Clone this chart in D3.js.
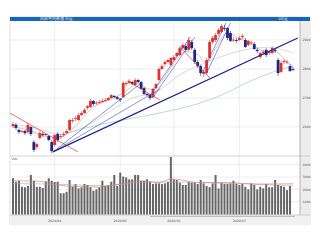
<!DOCTYPE html>
<html><head><meta charset="utf-8">
<script src="https://cdn.jsdelivr.net/npm/d3@7"></script>
<style>html,body{margin:0;padding:0;background:#fff;}svg{display:block;}</style>
</head><body>
<script>
// ---- data ----
const ohlc = [
[2603,2617,2597,2610],[2607,2614,2590,2597],[2590,2593,2576,2583],[2583,2590,2579,2586],[2586,2590,2572,2579],
[2583,2614,2576,2607],[2600,2603,2569,2576],[2548,2555,2514,2521],[2531,2545,2524,2541],[2562,2586,2559,2579],
[2576,2583,2566,2572],[2572,2579,2569,2576],[2569,2572,2552,2555],[2548,2555,2510,2517],[2538,2576,2531,2572],
[2576,2583,2548,2555],[2566,2576,2559,2569],[2572,2583,2566,2576],[2579,2593,2576,2586],[2590,2628,2586,2624],
[2621,2631,2614,2624],[2628,2638,2621,2631],[2624,2648,2621,2641],[2641,2655,2638,2648],[2648,2666,2645,2659],
[2666,2676,2659,2672],[2669,2697,2666,2690],[2690,2693,2672,2679],[2683,2690,2676,2684],[2683,2693,2679,2686],
[2686,2697,2683,2690],[2690,2700,2686,2693],[2693,2703,2690,2700],[2700,2714,2697,2710],[2707,2710,2700,2703],
[2703,2707,2693,2697],[2697,2700,2686,2693],[2703,2759,2700,2752],[2748,2755,2741,2752],[2752,2766,2748,2759],
[2755,2759,2745,2748],[2745,2769,2741,2762],[2762,2766,2752,2755],[2755,2759,2728,2731],[2734,2738,2710,2714],
[2714,2717,2707,2710],[2710,2714,2693,2700],[2703,2734,2700,2731],[2734,2752,2731,2748],[2762,2807,2759,2800],
[2800,2817,2797,2810],[2817,2831,2810,2824],[2824,2834,2821,2831],[2814,2841,2810,2838],[2831,2848,2828,2841],
[2845,2859,2841,2855],[2848,2879,2845,2872],[2872,2890,2869,2883],[2879,2886,2859,2866],[2866,2910,2862,2900],
[2893,2900,2866,2872],[2866,2872,2817,2824],[2824,2831,2803,2810],[2810,2814,2776,2786],[2783,2797,2772,2790],
[2786,2838,2779,2831],[2838,2900,2834,2893],[2893,2914,2886,2907],[2900,2924,2893,2917],[2921,2941,2914,2935],
[2928,2955,2924,2948],[2941,2952,2931,2938],[2941,2945,2900,2907],[2924,2931,2893,2897],[2900,2910,2893,2901],
[2900,2907,2890,2897],[2900,2914,2897,2907],[2910,2921,2903,2914],[2900,2907,2872,2876],[2883,2900,2879,2897],
[2890,2897,2883,2891],[2886,2893,2866,2869],[2866,2872,2855,2862],[2841,2859,2834,2855],[2855,2866,2848,2859],
[2866,2872,2841,2848],[2855,2862,2848,2859],[2855,2879,2852,2872],[2866,2872,2855,2862],[2831,2838,2776,2786],
[2790,2828,2786,2821],[2824,2834,2817,2828],[2824,2831,2817,2825],[2810,2817,2790,2793],[2800,2807,2793,2797]
];
const volume = [2900,2620,2700,2220,2180,2280,3160,2700,2220,2220,2120,2650,2900,2700,2600,2620,1700,1700,1820,2760,
2220,2440,2090,2180,2440,2360,2180,1900,2010,2180,2700,2280,2360,2620,3160,2280,3350,3030,2970,2810,
2810,3160,3160,2700,2700,2810,2620,2440,2490,
2490,2440,2490,2620,4600,2810,2760,2540,2360,2360,2620,2540,2540,2440,2760,2490,2280,2180,2490,3160,
2090,2540,2440,2440,2490,2700,2440,2360,2440,2220,2010,2490,2360,2010,2220,2090,2440,2180,2180,2760,
2360,2280,2220,1950,2280];
const priceTicks = [2900, 2800, 2700, 2600];
const priceTickLabels = ["2900", "2800", "2700", "2600"];
const volTicks = [4000, 3000, 2000, 1000];
const volTickLabels = ["4000", "3000", "2000", "1000"];
const dateTickIdx = [14, 36, 54, 76];
const dateTickLabels = ["2020/04", "2020/05", "2020/06", "2020/07"];
// moving averages: [index, value]
const maShort = [[0,2600],[5,2590],[10,2570],[14,2560],[18,2575],[22,2615],[26,2660],[30,2685],[34,2700],[38,2725],[42,2750],[46,2730],[50,2760],[54,2820],[58,2860],[62,2850],[65,2820],[68,2870],[72,2925],[76,2905],[80,2890],[84,2862],[88,2860],[92,2825],[94,2810]];
const maMid = [[0,2610],[8,2595],[16,2575],[24,2600],[32,2650],[40,2700],[48,2720],[56,2780],[64,2820],[72,2850],[80,2870],[86,2875],[90,2868],[94,2855]];
const maLong = [[18,2580],[30,2610],[50,2650],[62,2680],[70,2710],[80,2760],[88,2792],[94,2810]];
const volMaA = [[0,2700],[9,2650],[19,2250],[29,2200],[36,2450],[42,2700],[49,2550],[53,2850],[57,2750],[62,2560],[72,2560],[82,2400],[94,2350]];
const volMaB = [[0,2480],[15,2420],[30,2300],[45,2600],[55,2600],[70,2500],[85,2450],[94,2480]];
// trend lines: [i1, p1, i2, p2]
const blueThick = [[13.4,2514,95.6,2907]];
const blueThin = [[13.4,2514,43.5,2755],[13.4,2514,49.3,2731],[45.5,2700,59.5,2910],[46.8,2700,61,2910],[63.5,2786,71.5,2959],[65,2786,73,2959]];
const redLines = [[-1,2648,21.8,2514],[38.5,2759,49.3,2693],[56,2876,66.4,2766]];

// ---- layout ----
const W = 320, H = 242;
const L = 10, R = 310, axisL = 300;
const svg = d3.select("body").append("svg").attr("width", W).attr("height", H);
const x = d3.scaleLinear().domain([0, 94]).range([13, 293]);
const y = d3.scaleLinear().domain([2500, 2965.5]).range([156, 21]);
const yv = d3.scaleLinear().domain([0, 4680]).range([214.5, 156]);

// frame backgrounds
svg.append("rect").attr("x", L).attr("y", 17).attr("width", R - L).attr("height", 207).attr("fill", "#fff").attr("stroke", "#c8c8c8").attr("stroke-width", 0.6);
svg.append("rect").attr("x", axisL).attr("y", 21).attr("width", R - axisL).attr("height", 194).attr("fill", "#ececec");
svg.append("rect").attr("x", L).attr("y", 215).attr("width", R - L).attr("height", 9).attr("fill", "#f1f1f1");
svg.append("rect").attr("x", L).attr("y", 17).attr("width", R - L).attr("height", 4).attr("fill", "#1464c0");
svg.append("text").attr("x", 40).attr("y", 20.3).attr("font-size", 3.6).attr("fill", "#e8f0ff").attr("font-family", "DejaVu Sans").text("日経平均株価 日足");
svg.append("text").attr("x", 278).attr("y", 20.3).attr("font-size", 3.6).attr("fill", "#e8f0ff").attr("font-family", "DejaVu Sans").text("1日足");

// grids
const g = svg.append("g");
g.selectAll(".hg").data(priceTicks).join("line").attr("x1", L).attr("x2", axisL).attr("y1", d => y(d)).attr("y2", d => y(d)).attr("stroke", "#e2e2e2").attr("stroke-width", 0.6);
g.selectAll(".vg").data(volTicks).join("line").attr("x1", L).attr("x2", axisL).attr("y1", d => yv(d)).attr("y2", d => yv(d)).attr("stroke", "#e2e2e2").attr("stroke-width", 0.6);
g.selectAll(".xg").data(dateTickIdx).join("line").attr("x1", d => x(d)).attr("x2", d => x(d)).attr("y1", 21).attr("y2", 215).attr("stroke", "#e2e2e2").attr("stroke-width", 0.6);
svg.append("line").attr("x1", L).attr("x2", R).attr("y1", 156).attr("y2", 156).attr("stroke", "#bdbdbd").attr("stroke-width", 0.7);
svg.append("line").attr("x1", axisL).attr("x2", axisL).attr("y1", 21).attr("y2", 215).attr("stroke", "#9a9a9a").attr("stroke-width", 0.7);
svg.append("line").attr("x1", L).attr("x2", R).attr("y1", 215).attr("y2", 215).attr("stroke", "#bdbdbd").attr("stroke-width", 0.7);
svg.append("text").attr("x", 11.5).attr("y", 159.5).attr("font-size", 3).attr("fill", "#444").attr("font-family", "DejaVu Sans").text("VOL");

// right axes
const ax = svg.append("g").attr("font-family", "DejaVu Sans").attr("font-size", 3.2).attr("fill", "#555");
ax.selectAll(".pl").data(priceTicks).join("text").attr("x", 302.5).attr("y", d => y(d) + 1).text((d, i) => priceTickLabels[i]);
ax.selectAll(".vl").data(volTicks).join("text").attr("x", 302.5).attr("y", d => yv(d) + 1).text((d, i) => volTickLabels[i]);
ax.selectAll(".dl").data(dateTickIdx).join("text").attr("x", d => x(d)).attr("y", 221.5).attr("text-anchor", "middle").text((d, i) => dateTickLabels[i]);
svg.append("line").attr("x1", 150).attr("x2", 295).attr("y1", 216.5).attr("y2", 216.5).attr("stroke", "#9a9a9a").attr("stroke-width", 0.6);

// clip
svg.append("clipPath").attr("id", "cm").append("rect").attr("x", L).attr("y", 21).attr("width", axisL - L).attr("height", 135);
svg.append("clipPath").attr("id", "cv").append("rect").attr("x", L).attr("y", 156.5).attr("width", axisL - L).attr("height", 58.5);

// volume
const vg = svg.append("g").attr("clip-path", "url(#cv)");
vg.selectAll("rect").data(volume).join("rect").attr("x", (d, i) => x(i) - 1).attr("width", 2).attr("y", d => yv(d)).attr("height", d => yv(0) - yv(d)).attr("fill", "#666");
const lineV = d3.line().x(d => x(d[0])).y(d => yv(d[1])).curve(d3.curveMonotoneX);
vg.append("path").attr("d", lineV(volMaB)).attr("fill", "none").attr("stroke", "#aaa").attr("stroke-width", 0.6);
vg.append("path").attr("d", lineV(volMaA)).attr("fill", "none").attr("stroke", "#e07070").attr("stroke-width", 0.6);

// main
const mg = svg.append("g").attr("clip-path", "url(#cm)");
const lineP = d3.line().x(d => x(d[0])).y(d => y(d[1])).curve(d3.curveMonotoneX);
mg.append("path").attr("d", lineP(maLong)).attr("fill", "none").attr("stroke", "#9cc8c0").attr("stroke-width", 0.7);
mg.append("path").attr("d", lineP(maMid)).attr("fill", "none").attr("stroke", "#c0c0c8").attr("stroke-width", 0.6);
mg.append("path").attr("d", lineP(maShort)).attr("fill", "none").attr("stroke", "#a8a8a8").attr("stroke-width", 0.6);

const up = "#e2322b", down = "#1d2680";
const c = mg.selectAll(".c").data(ohlc).join("g");
c.append("line").attr("x1", (d, i) => x(i)).attr("x2", (d, i) => x(i)).attr("y1", d => y(d[1])).attr("y2", d => y(d[2])).attr("stroke", d => d[3] >= d[0] ? up : down).attr("stroke-width", 0.6);
c.append("rect").attr("x", (d, i) => x(i) - 1.4).attr("width", 2.8)
  .attr("y", d => y(Math.max(d[0], d[3])))
  .attr("height", d => Math.max(0.8, Math.abs(y(d[0]) - y(d[3]))))
  .attr("fill", d => d[3] >= d[0] ? up : down);

const seg = (arr, col, w) => mg.selectAll(null).data(arr).join("line")
  .attr("x1", d => x(d[0])).attr("y1", d => y(d[1])).attr("x2", d => x(d[2])).attr("y2", d => y(d[3]))
  .attr("stroke", col).attr("stroke-width", w);
seg(redLines, "#d83a3a", 0.7);
seg(blueThin, "#4a4ab0", 0.6);
seg(blueThick, "#23238f", 1.3);
</script>
</body></html>
